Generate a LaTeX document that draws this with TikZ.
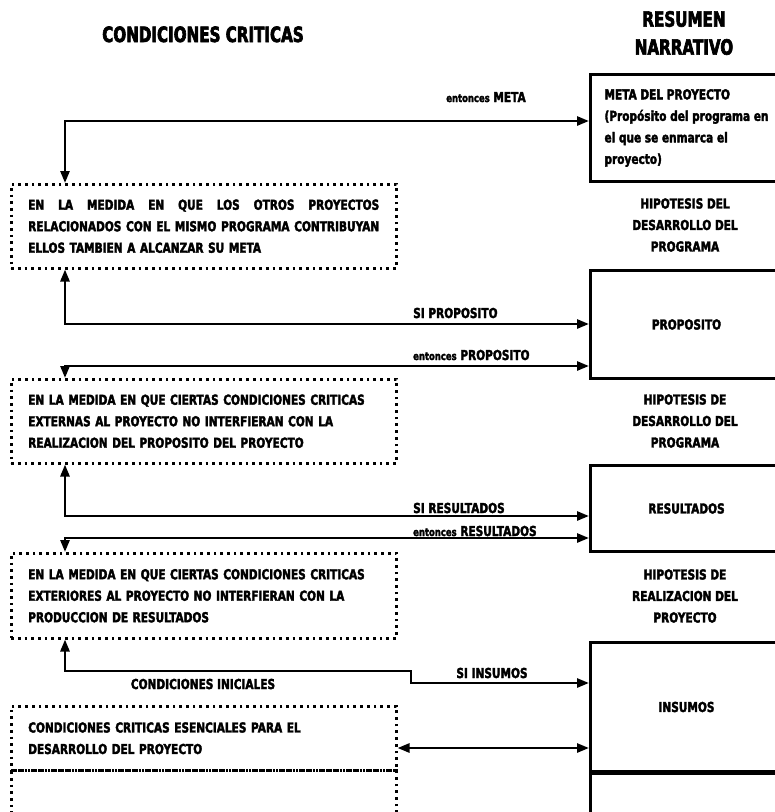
\documentclass[tikz,border=0pt]{standalone}
\usepackage{fontspec}
\usepackage{tikz}
\usetikzlibrary{arrows.meta}
\newfontfamily\BodyFont{DejaVu Sans}[FakeStretch=0.77,FakeBold=2.5]
\newfontfamily\HeadFont{DejaVu Sans}[FakeStretch=0.72,FakeBold=3]
\newcommand{\Ent}{{\fontsize{11}{13}\selectfont entonces}}
\tikzstyle{Title}=[font=\HeadFont\bfseries\fontsize{21}{28}\selectfont,align=center,inner sep=0pt]
\tikzstyle{BoxResumen}=[draw,line width=3pt,anchor=north west,minimum width=192pt,inner sep=0pt,
align=center,font=\BodyFont\bfseries\fontsize{13.7}{21.5}\selectfont]
\tikzstyle{BoxCond}=[draw,line width=2.5pt,dash pattern=on 2.7pt off 4pt,anchor=north west,
inner xsep=17pt,inner ysep=0pt,text width=351pt,align=left,font=\BodyFont\bfseries\fontsize{13.7}{21.5}\selectfont]
\tikzstyle{TextHip}=[align=center,inner sep=0pt,font=\BodyFont\bfseries\fontsize{13.7}{21.5}\selectfont]
\tikzstyle{LabelLink}=[inner sep=0pt,anchor=base west,font=\BodyFont\bfseries\fontsize{13.7}{21.5}\selectfont]
\tikzstyle{EdgeLink}=[line width=2.6pt,{Triangle[length=12pt,width=9pt]}-{Triangle[length=12pt,width=9pt]}]

\begin{document}
\begin{tikzpicture}[x=1pt,y=-1pt]
        \useasboundingbox(0,0)rectangle(775,812);
        \clip(0,0)rectangle(775,812);
        % titulos
        \node[Title,anchor=base](tc)at(203,42){CONDICIONES CRITICAS};
        \node[Title](tr)at(684,33){RESUMEN\\NARRATIVO};
        % resumen narrativo
        \node[BoxResumen,minimum height=107pt,align=left](meta)at(589,73){META DEL PROYECTO\\(Propósito del programa en\\el que se enmarca el\\proyecto)};
        \node[BoxResumen,minimum height=108pt](prop)at(589,269){PROPOSITO};
        \node[BoxResumen,minimum height=86pt](res)at(589,464){RESULTADOS};
        \node[BoxResumen,minimum height=129pt](ins)at(589,641){INSUMOS};
        \node[BoxResumen,minimum height=100pt](sig)at(589,772){};
        \node[TextHip](h1)at(685,225){HIPOTESIS DEL\\DESARROLLO DEL\\PROGRAMA};
        \node[TextHip](h2)at(685,421){HIPOTESIS DE\\DESARROLLO DEL\\PROGRAMA};
        \node[TextHip](h3)at(685,596){HIPOTESIS DE\\REALIZACION DEL\\PROYECTO};
        % condiciones criticas
        \node[BoxCond,minimum height=84pt](c1)at(10,183){\makebox[351pt][s]{EN\hfill LA\hfill MEDIDA\hfill EN\hfill QUE\hfill LOS\hfill OTROS\hfill PROYECTOS}\\
            \makebox[351pt][s]{RELACIONADOS\hfill CON\hfill EL\hfill MISMO\hfill PROGRAMA\hfill CONTRIBUYAN}\\ELLOS TAMBIEN A ALCANZAR SU META};
        \node[BoxCond,minimum height=84pt](c2)at(10,378){EN LA MEDIDA EN QUE CIERTAS CONDICIONES CRITICAS\\
            EXTERNAS AL PROYECTO NO INTERFIERAN CON LA\\REALIZACION DEL PROPOSITO DEL PROYECTO};
        \node[BoxCond,minimum height=85pt](c3)at(10,552){EN LA MEDIDA EN QUE CIERTAS CONDICIONES CRITICAS\\
            EXTERIORES AL PROYECTO NO INTERFIERAN CON LA\\PRODUCCION DE RESULTADOS};
        \node[BoxCond,minimum height=64pt](c4)at(10,705){CONDICIONES CRITICAS ESENCIALES PARA EL\\DESARROLLO DEL PROYECTO};
        \node[BoxCond,minimum height=100pt](c5)at(10,769){};
        \node[LabelLink,anchor=base](ini)at(203,689){CONDICIONES INICIALES};
        % conectores
        \coordinate(k1)at(65,121);
        \coordinate(k2)at(65,324);
        \coordinate(k3)at(65,366);
        \coordinate(k4)at(65,516);
        \coordinate(k5)at(65,538);
        \coordinate(k6)at(65,671);
        \coordinate(k7)at(411,683);
        \coordinate(k8)at(402,748);
        \draw[EdgeLink](c1.north-|k1)--(k1)--(k1-|meta.west);
        \draw[EdgeLink](c1.south-|k2)--(k2)--(k2-|prop.west);
        \draw[EdgeLink](c2.north-|k3)--(k3)--(k3-|prop.west);
        \draw[EdgeLink](c2.south-|k4)--(k4)--(k4-|res.west);
        \draw[EdgeLink](c3.north-|k5)--(k5)--(k5-|res.west);
        \draw[EdgeLink](c3.south-|k6)--(k6)--(k6-|k7)--(k7)--(k7-|ins.west);
        \draw[EdgeLink](c4.east|-k8)--(k8-|ins.west);
        \node[LabelLink,anchor=base](l1)at(486,102){\Ent{} META};
        \node[LabelLink](l2)at(413,318){SI PROPOSITO};
        \node[LabelLink](l3)at(413,360){\Ent{} PROPOSITO};
        \node[LabelLink](l4)at(413,513){SI RESULTADOS};
        \node[LabelLink](l5)at(413,536){\Ent{} RESULTADOS};
        \node[LabelLink,anchor=base](l6)at(492,678){SI INSUMOS};
    \end{tikzpicture}
\end{document}
